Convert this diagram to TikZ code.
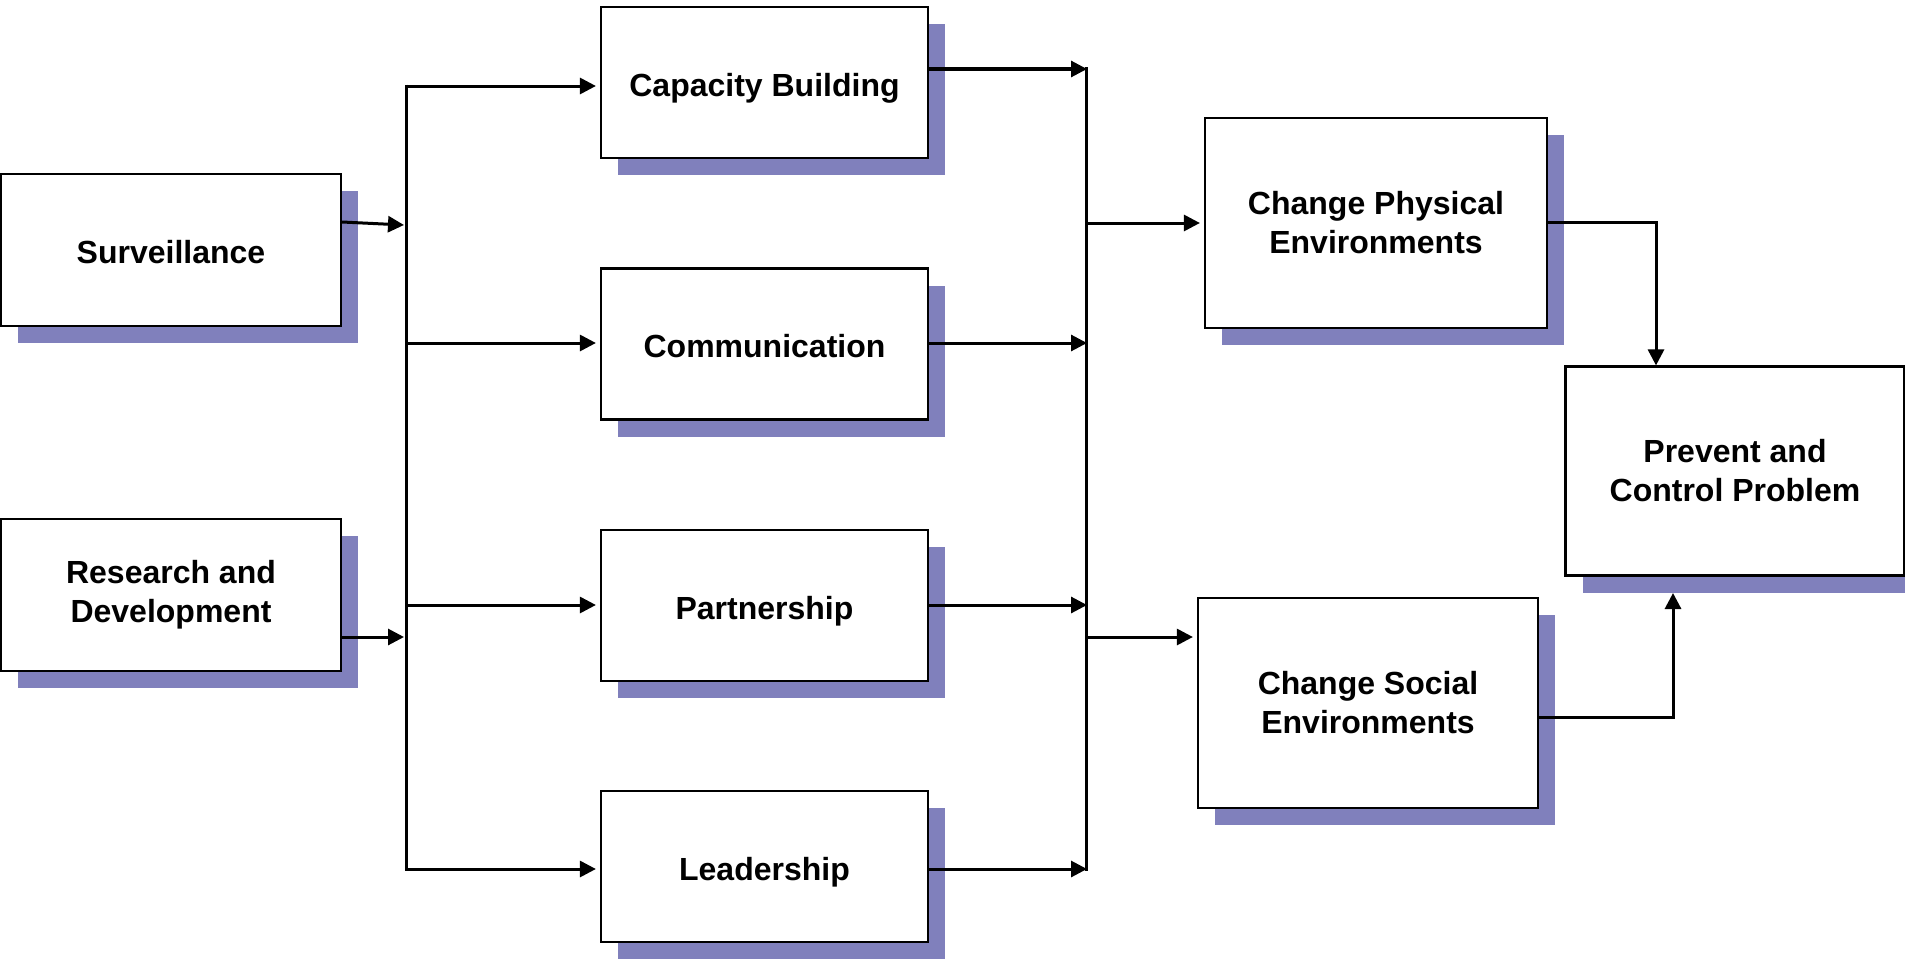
\documentclass[tikz,border=0pt]{standalone}
\usepackage{fontspec}
\setmainfont{Liberation Sans}
\usetikzlibrary{arrows.meta,shadows}
\definecolor{shadowc}{RGB}{128,128,188}
\tikzset{
  box/.style={draw=black, line width=2.2pt, fill=white, rectangle, inner sep=0pt,
    align=center, font=\fontsize{32}{39}\selectfont\bfseries,
    drop shadow={shadow xshift=17pt, shadow yshift=-17pt, opacity=1, fill=shadowc, draw=none}},
  one/.style={text height=31pt, text depth=4pt},
  arr/.style={line width=3pt, -{Triangle[length=16pt,width=16pt]}},
  arrbox/.style={arr, shorten >=4pt},
  ln/.style={line width=3pt}
}
\begin{document}
\begin{tikzpicture}[x=1pt,y=-1pt]
\useasboundingbox (0,0) rectangle (1905,958);
% boxes
\node[box, one, minimum width=340pt, minimum height=152pt] (surv) at (171,250) {Surveillance};
\node[box, minimum width=340pt, minimum height=152pt] (rd) at (171,595) {Research and\\Development};
\node[box, one, minimum width=327pt, minimum height=151pt] (cap) at (764.5,82.5) {Capacity Building};
\node[box, one, minimum width=327pt, minimum height=151pt] (comm) at (764.5,344) {Communication};
\node[box, one, minimum width=327pt, minimum height=151pt] (part) at (764.5,605.5) {Partnership};
\node[box, one, minimum width=327pt, minimum height=151pt] (lead) at (764.5,866.5) {Leadership};
\node[box, minimum width=342pt, minimum height=210pt] (phys) at (1376,223) {Change Physical\\Environments};
\node[box, minimum width=340pt, minimum height=210pt] (soc) at (1368,703) {Change Social\\Environments};
\node[box, minimum width=339pt, minimum height=209pt] (prev) at (1735,471) {Prevent and\\Control Problem};
% bus coordinates
\coordinate (lTop) at (406,86);
\coordinate (lBot) at (406,869);
\coordinate (lS) at (406,225);
\coordinate (lR) at (406,637);
\coordinate (lC) at (406,343);
\coordinate (lP) at (406,605);
\coordinate (rTop) at (1086,69);
\coordinate (rBot) at (1086,869);
\coordinate (rC) at (1086,343);
\coordinate (rP) at (1086,605);
\coordinate (rPh) at (1086,223);
\coordinate (rSo) at (1086,637);
\coordinate (turnPh) at (1656,222);
\coordinate (turnSo) at (1673,717);
\coordinate (prevShadow) at (1673,593);
% left bus
\draw[ln] ([yshift=1.5pt]lTop) -- ([yshift=-1.5pt]lBot);
\draw[arr] ([yshift=28pt]surv.east) -- ([xshift=-2pt]lS);
\draw[arr] ([yshift=-42pt]rd.east) -- ([xshift=-2pt]lR);
\draw[arrbox] (lTop) -- (cap.west |- lTop);
\draw[arrbox] (lC) -- (comm.west |- lC);
\draw[arrbox] (lP) -- (part.west |- lP);
\draw[arrbox] (lBot) -- (lead.west |- lBot);
% right bus
\draw[ln] ([yshift=1.5pt]rTop) -- ([yshift=-1.5pt]rBot);
\draw[arr] (cap.east |- rTop) -- ([xshift=1pt]rTop);
\draw[arr] (comm.east |- rC) -- ([xshift=1pt]rC);
\draw[arr] (part.east |- rP) -- ([xshift=1pt]rP);
\draw[arr] (lead.east |- rBot) -- ([xshift=1pt]rBot);
\draw[arrbox] (rPh) -- (phys.west |- rPh);
\draw[arrbox] (rSo) -- (soc.west |- rSo);
% to prevent
\draw[arr] (phys.east |- turnPh) -- (turnPh) -- (prev.north -| turnPh);
\draw[arr] (soc.east |- turnSo) -- (turnSo) -- (prevShadow);
\end{tikzpicture}
\end{document}
